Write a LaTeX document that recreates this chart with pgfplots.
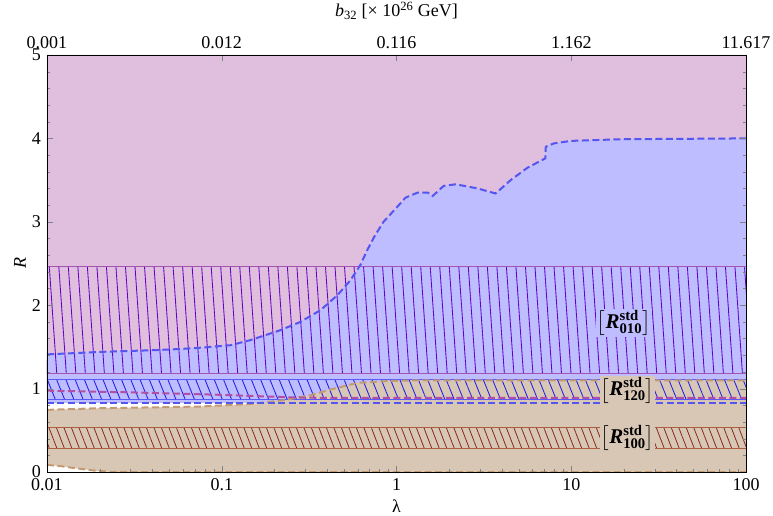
\documentclass[border=0pt]{standalone}
\usepackage{amsmath}
\usepackage{fontspec}
\setmainfont{Liberation Serif}
\usepackage{pgfplots}
\pgfplotsset{compat=1.18}
\usepackage{pgfplotstable}
\usepgfplotslibrary{fillbetween}
\usetikzlibrary{patterns.meta}

\definecolor{pinkbg}{RGB}{224,190,222}
\definecolor{bluefill}{RGB}{189,189,255}
\definecolor{tanfill}{RGB}{217,199,181}
\definecolor{bluedash}{RGB}{85,85,240}
\definecolor{purpledash}{RGB}{178,78,165}
\definecolor{tandash}{RGB}{195,155,115}
\definecolor{hatchA}{RGB}{100,0,200}
\definecolor{borderA}{RGB}{165,85,175}
\definecolor{hatchB}{RGB}{30,30,235}
\definecolor{borderB}{RGB}{90,90,250}
\definecolor{hatchC}{RGB}{135,40,25}
\definecolor{borderC}{RGB}{170,95,65}

% upper boundary of the allowed R region (blue)
\pgfplotstableread{
lam R
0.01 1.41
0.02 1.44
0.04 1.46
0.058 1.475
0.075 1.49
0.112 1.52
0.145 1.58
0.216 1.70
0.282 1.80
0.367 1.94
0.459 2.12
0.545 2.30
0.62 2.48
0.68 2.66
0.75 2.83
0.843 3.00
1.0 3.17
1.127 3.29
1.32 3.35
1.51 3.35
1.61 3.31
1.86 3.43
2.18 3.45
2.91 3.40
3.69 3.34
4.50 3.50
5.63 3.65
7.10 3.76
7.15 3.90
7.95 3.94
9.93 3.97
19.2 3.99
100 4.00
}\blueHi

\pgfplotstableread{
lam R
0.01 0.83
100 0.83
}\blueLo

% tan region
\pgfplotstableread{
lam R
0.01 0.745
0.02 0.765
0.04 0.775
0.075 0.785
0.145 0.815
0.224 0.86
0.32 0.92
0.44 1.00
0.60 1.07
0.89 1.09
1.37 1.10
100 1.10
}\tanHi

\pgfplotstableread{
lam R
0.01 0.085
0.012 0.07
0.014 0.05
0.016 0.035
0.019 0.015
0.023 0.003
0.03 0
100 0
}\tanLo

% lower edge of the pink region
\pgfplotstableread{
lam R
0.01 0.975
0.03 0.955
0.1 0.925
0.25 0.895
0.35 0.89
100 0.89
}\pinkLo

\begin{document}
\fontsize{18}{21}\selectfont
\begin{tikzpicture}
\begin{axis}[
  scale only axis, width=699pt, height=417pt,
  xmode=log, xmin=0.01, xmax=100, ymin=0, ymax=5,
  xtick={0.01,0.1,1,10,100}, xticklabels={0.01,0.1,1,10,100},
  xtick pos=left,
  ytick={0,1,2,3,4,5}, minor y tick num=4,
  tick align=inside,
  major tick length=6pt, minor tick length=3.5pt,
  axis line style={line width=0.8pt},
  /pgf/number format/assume math mode=true,
  xlabel={λ}, ylabel={\textit{R}},
  xlabel style={at={(axis description cs:0.5,-0.083)}, anchor=center},
  ylabel style={at={(axis description cs:-0.0386,0.5)}, anchor=center},
  axis on top,
]
% region fills
\addplot[name path=Ptop, draw=none] coordinates {(0.01,5) (100,5)};
\addplot[name path=P, draw=none] table {\pinkLo};
\addplot[fill=pinkbg, draw=none] fill between[of=P and Ptop];

\addplot[name path=Blo, draw=none] table {\blueLo};
\addplot[name path=Bhi, draw=none] table {\blueHi};
\addplot[fill=bluefill, draw=none] fill between[of=Blo and Bhi];

\addplot[name path=Tlo, draw=none] table {\tanLo};
\addplot[name path=Thi, draw=none] table {\tanHi};
\addplot[fill=tanfill, draw=none] fill between[of=Tlo and Thi];

% hatched bands
\addplot[name path=a1, draw=none] coordinates {(0.01,1.18) (100,1.18)};
\addplot[name path=a2, draw=none] coordinates {(0.01,2.46) (100,2.46)};
\addplot[pattern={Lines[angle=94,distance=9.5pt,line width=0.85pt]}, pattern color=hatchA, draw=none] fill between[of=a1 and a2];

\addplot[name path=b1, draw=none] coordinates {(0.01,0.865) (100,0.865)};
\addplot[name path=b2, draw=none] coordinates {(0.01,1.115) (100,1.115)};
\addplot[pattern={Lines[angle=112,distance=8.6pt,line width=0.85pt]}, pattern color=hatchB, draw=none] fill between[of=b1 and b2];

\addplot[name path=c1, draw=none] coordinates {(0.01,0.28) (100,0.28)};
\addplot[name path=c2, draw=none] coordinates {(0.01,0.535) (100,0.535)};
\addplot[pattern={Lines[angle=111,distance=7pt,line width=0.8pt]}, pattern color=hatchC, draw=none] fill between[of=c1 and c2];

% band edges
\addplot[borderA, line width=1pt] coordinates {(0.01,1.18) (100,1.18)};
\addplot[borderA, line width=1pt] coordinates {(0.01,2.46) (100,2.46)};
\addplot[borderB, line width=1pt] coordinates {(0.01,0.865) (100,0.865)};
\addplot[borderB, line width=1pt] coordinates {(0.01,1.115) (100,1.115)};
\addplot[borderC, line width=1pt] coordinates {(0.01,0.28) (100,0.28)};
\addplot[borderC, line width=1pt] coordinates {(0.01,0.535) (100,0.535)};

% dashed region boundaries
\addplot[tandash, line width=2pt, dash pattern=on 7pt off 3.5pt] table {\tanLo};
\addplot[tandash, line width=2pt, dash pattern=on 7pt off 3.5pt] table {\tanHi};
\addplot[purpledash, line width=2pt, dash pattern=on 7pt off 3.5pt] table {\pinkLo};
\addplot[bluedash, line width=2pt, dash pattern=on 7pt off 3.5pt] table {\blueLo};
\addplot[bluedash, line width=2pt, dash pattern=on 7pt off 3.5pt] table {\blueHi};

% band labels
\node[font=\fontsize{21}{24}\selectfont, fill=bluefill, inner sep=1pt] at (axis cs:20,1.79)
  {$\left[\text{\textbf{\textit{R}}}^{\text{\textbf{std}}}_{\text{\textbf{010}}}\right]$};
\node[font=\fontsize{21}{24}\selectfont, fill=tanfill, inner sep=1pt] at (axis cs:21,0.98)
  {$\left[\text{\textbf{\textit{R}}}^{\text{\textbf{std}}}_{\text{\textbf{120}}}\right]$};
\node[font=\fontsize{21}{24}\selectfont, fill=tanfill, inner sep=1pt] at (axis cs:21,0.41)
  {$\left[\text{\textbf{\textit{R}}}^{\text{\textbf{std}}}_{\text{\textbf{100}}}\right]$};

% grey left frame edge
\draw[gray, line width=0.9pt] (rel axis cs:0,0) -- (rel axis cs:0,1);
\end{axis}

% top scale in b_32
\begin{axis}[
  scale only axis, width=699pt, height=417pt,
  xmode=log, xmin=0.01, xmax=100, ymin=0, ymax=5,
  axis x line*=top, axis y line=none,
  xtick={0.01,0.1,1,10,100},
  xticklabels={0.001,0.012,0.116,1.162,11.617},
  xminorticks=false, tick align=inside, major tick length=6pt,
  axis line style={line width=0.8pt},
  title={\textit{b}\textsubscript{32} [× 10\textsuperscript{26} GeV]},
  title style={at={(axis description cs:0.5,1.091)}, anchor=center},
]
\end{axis}
\pgfresetboundingbox
\useasboundingbox (-47pt,-43pt) rectangle (726pt,472pt);
\end{tikzpicture}
\end{document}
